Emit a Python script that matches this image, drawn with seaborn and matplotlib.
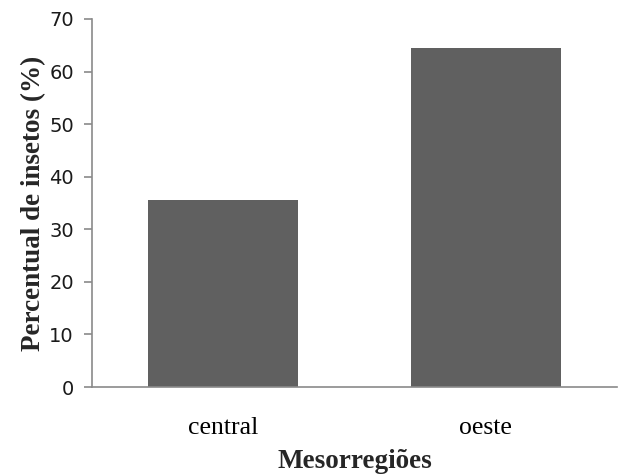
import matplotlib
matplotlib.use("Agg")
import matplotlib.pyplot as plt
import seaborn as sns
import pandas as pd

categories = ["central", "oeste"]
values = [35.5, 64.5]
yticks = [0, 10, 20, 30, 40, 50, 60, 70]

sns.set_style("white")
df = pd.DataFrame({"Mesorregiões": categories, "Percentual": values})

fig = plt.figure(figsize=(6.21, 4.74), dpi=100)
ax = fig.add_axes([0.148, 0.1835, 0.846, 0.7765])
sns.barplot(data=df, x="Mesorregiões", y="Percentual", color="#606060",
            saturation=1, width=0.57, ax=ax)
for p in ax.patches:
    p.set_edgecolor("none")

ax.set_ylim(0, 70)
ax.set_yticks(yticks)
ax.set_yticklabels([str(t) for t in yticks], family="DejaVu Sans", fontsize=14, color="#1a1a1a")
ax.set_xticklabels(categories, family="Liberation Serif", fontsize=18.5, color="black")
ax.set_xlim(-0.5, 1.5)
for s in ["top", "right"]:
    ax.spines[s].set_visible(False)
for s in ["left", "bottom"]:
    ax.spines[s].set_color("#8a8a8a")
    ax.spines[s].set_linewidth(1.2)
ax.tick_params(axis="y", which="major", left=True, length=6, width=1.2, color="#8a8a8a", pad=7)
ax.tick_params(axis="x", bottom=False, pad=18)
ax.set_xlabel("Mesorregiões", family="Liberation Serif", fontweight="bold", fontsize=19.5, labelpad=7)
ax.set_ylabel("Percentual de insetos (%)", family="Liberation Serif", fontweight="bold", fontsize=19.5, labelpad=2)

fig.savefig("out.png", dpi=100)
